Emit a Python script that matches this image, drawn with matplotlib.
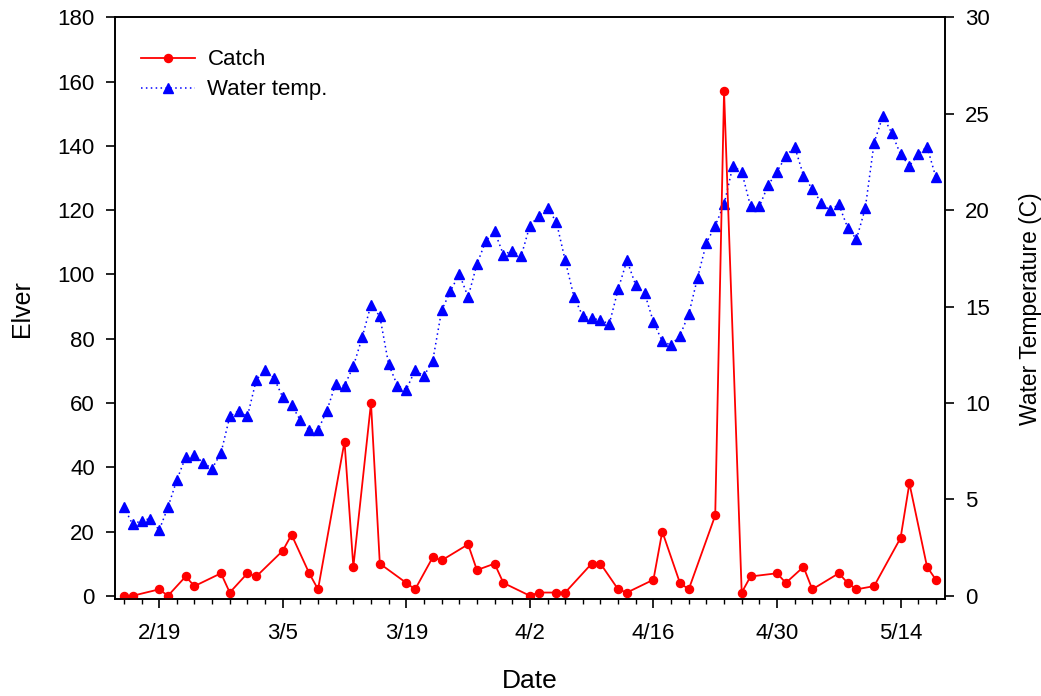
import datetime as dt
import matplotlib
matplotlib.use("Agg")
import matplotlib.pyplot as plt
import matplotlib.dates as mdates
from matplotlib.ticker import FuncFormatter

plt.rcParams['font.family'] = ['Liberation Sans', 'DejaVu Sans']

YEAR = 2007  # non-leap year: 2/19 + 14 days = 3/5

# Catch (elver counts) - sampling dates (month, day) and counts
catch_days = [(2, 15), (2, 16), (2, 19), (2, 20), (2, 22), (2, 23), (2, 26), (2, 27),
              (3, 1), (3, 2), (3, 5), (3, 6), (3, 8), (3, 9), (3, 12), (3, 13),
              (3, 15), (3, 16), (3, 19), (3, 20), (3, 22), (3, 23), (3, 26), (3, 27),
              (3, 29), (3, 30), (4, 2), (4, 3), (4, 5), (4, 6), (4, 9), (4, 10),
              (4, 12), (4, 13), (4, 16), (4, 17), (4, 19), (4, 20), (4, 23), (4, 24),
              (4, 26), (4, 27), (4, 30), (5, 1), (5, 3), (5, 4), (5, 7), (5, 8),
              (5, 9), (5, 11), (5, 14), (5, 15), (5, 17), (5, 18)]
catch_vals = [0, 0, 2, 0, 6, 3, 7, 1,
              7, 6, 14, 19, 7, 2, 48, 9,
              60, 10, 4, 2, 12, 11, 16, 8,
              10, 4, 0, 1, 1, 1, 10, 10,
              2, 1, 5, 20, 4, 2, 25, 157,
              1, 6, 7, 4, 9, 2, 7, 4,
              2, 3, 18, 35, 9, 5]

# Water temperature (C), one reading per day from 2/15 to 5/18
temp_start = (2, 15)
temp_vals = [4.6, 3.7, 3.9, 4.0, 3.4, 4.6, 6.0, 7.2, 7.3, 6.9, 6.6, 7.4, 9.3, 9.6,
             9.3, 11.2, 11.7, 11.3, 10.3, 9.9, 9.1, 8.6, 8.6, 9.6, 11.0, 10.9, 11.9,
             13.4, 15.1, 14.5, 12.0, 10.9, 10.7, 11.7, 11.4, 12.2, 14.8, 15.8, 16.7,
             15.5, 17.2, 18.4, 18.9, 17.7, 17.9,
             17.6, 19.2, 19.7, 20.1, 19.4, 17.4, 15.5, 14.5, 14.4, 14.3, 14.1, 15.9,
             17.4, 16.1, 15.7, 14.2, 13.2, 13.0, 13.5, 14.6, 16.5, 18.3, 19.2, 20.3,
             22.3, 22.0, 20.2, 20.2, 21.3, 22.0,
             22.8, 23.3, 21.8, 21.1, 20.4, 20.0, 20.3, 19.1, 18.5, 20.1, 23.5, 24.9,
             24.0, 22.9, 22.3, 22.9, 23.3, 21.7]

catch_dates = [dt.date(YEAR, m, d) for m, d in catch_days]
t0 = dt.date(YEAR, *temp_start)
temp_dates = [t0 + dt.timedelta(days=i) for i in range(len(temp_vals))]

fig = plt.figure(figsize=(10.41, 6.96), dpi=100)
ax = fig.add_axes([0.1105, 0.1394, 0.797, 0.8355])
ax2 = ax.twinx()

# temperature on the twin axis, catch drawn on top
l2, = ax2.plot(temp_dates, temp_vals, color='#0000ff', linestyle=(0, (1, 2.2)),
               linewidth=1.1, marker='^', markersize=6.8, label='Water temp.')
l1, = ax.plot(catch_dates, catch_vals, color='#ff0000', linewidth=1.3,
              marker='o', markersize=5.8, label='Catch')
ax.set_zorder(ax2.get_zorder() + 1)
ax.patch.set_visible(False)

ax.set_xlim(dt.date(YEAR, 2, 14), dt.date(YEAR, 5, 19))
ax.set_ylim(-1, 180)
ax2.set_ylim(-1 / 6, 30)
ax.set_yticks(range(0, 181, 20))
ax2.set_yticks(range(0, 31, 5))

major = [dt.date(YEAR, 2, 19) + dt.timedelta(days=14 * k) for k in range(7)]
minor = [dt.date(YEAR, 2, 15) + dt.timedelta(days=2 * k) for k in range(47)]
ax.set_xticks([mdates.date2num(d) for d in major])
ax.set_xticks([mdates.date2num(d) for d in minor], minor=True)
ax.xaxis.set_major_formatter(FuncFormatter(
    lambda v, p: f"{mdates.num2date(v).month}/{mdates.num2date(v).day}"))

for a in (ax, ax2):
    for s in a.spines.values():
        s.set_linewidth(1.2)
ax.tick_params(axis='x', which='major', direction='out', length=6.5, width=1.2,
               labelsize=16, pad=10.5)
ax.tick_params(axis='x', which='minor', direction='out', length=3.5, width=1.0)
ax.tick_params(axis='y', direction='out', length=6.5, width=1.2, labelsize=16, pad=8)
ax2.tick_params(axis='y', direction='out', length=6.5, width=1.2, labelsize=16, pad=8)

ax.set_xlabel('Date', fontsize=19, labelpad=18)
ax.set_ylabel('Elver', fontsize=18, labelpad=17)
ax2.set_ylabel('Water Temperature (C)', fontsize=16.5, labelpad=21)

ax.legend(handles=[l1, l2], loc='upper left', bbox_to_anchor=(0.031, 0.945),
          frameon=False, fontsize=16, numpoints=1, handlelength=2.45,
          handletextpad=0.55, labelspacing=0.4, borderpad=0, borderaxespad=0)

fig.savefig('out.png', dpi=100)
